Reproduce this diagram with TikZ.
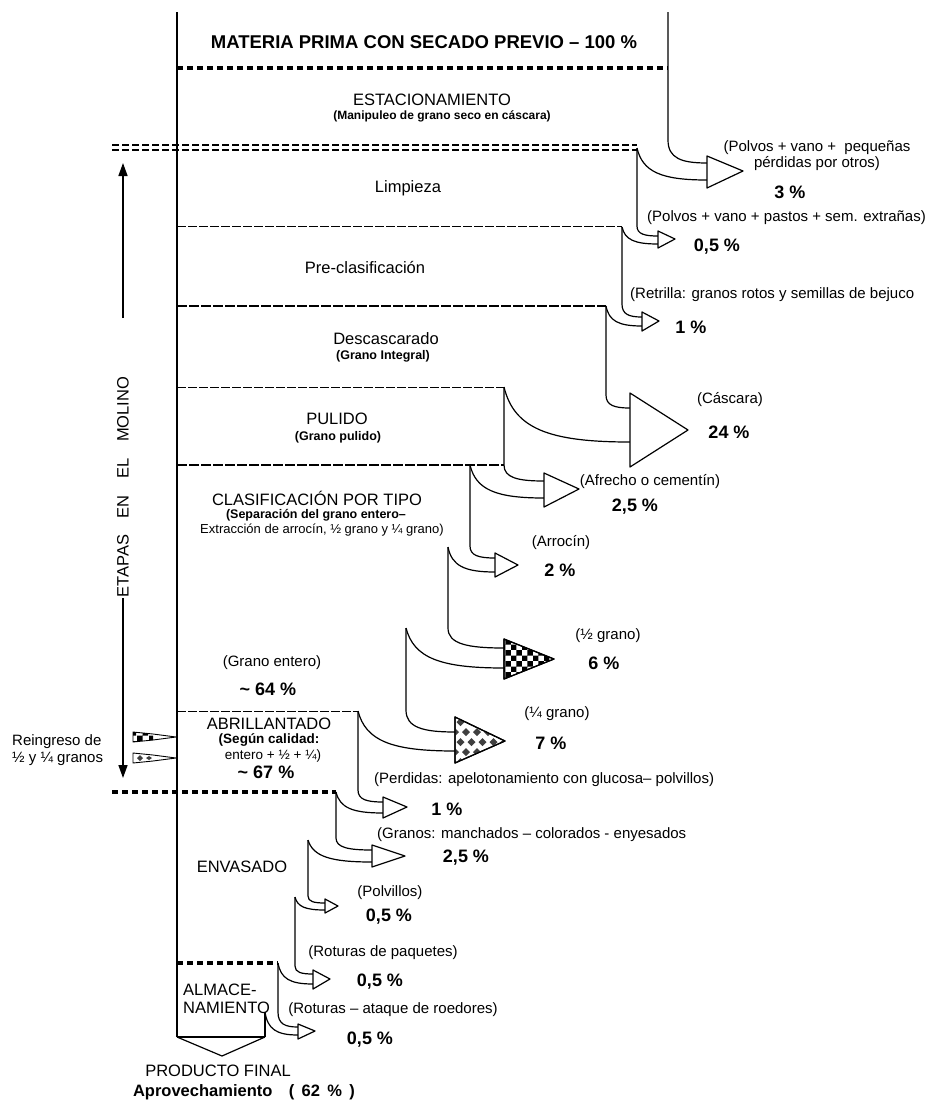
\documentclass[tikz,border=0pt]{standalone}
\usepackage{fontspec}
\setmainfont{Liberation Sans}
\usetikzlibrary{patterns,arrows.meta}
\newcommand{\upline}[5]{\draw[flow] (#1,#2) -- (#1,#3) .. controls (#1,{#3+0.8*(#5-#3)}) and ({#1+0.35*(#4-#1)},#5) .. (#4,#5);}
\newcommand{\lowline}[4]{\draw[flow] (#1,#2) .. controls ({#1+0.08*(#3-#1)},{#2+0.75*(#4-#2)}) and ({#1+0.35*(#3-#1)},#4) .. (#3,#4);}
\newcommand{\headtri}[6]{\draw[flow,#6] (#1,#2) -- (#4,#5) -- (#1,#3) -- cycle;}
\begin{document}
\begin{tikzpicture}[x=1pt,y=-1pt,line join=round,
  flow/.style={line width=1.2pt},
  lbl/.style={font=\fontsize{15}{17}\selectfont,inner sep=0pt},
  pct/.style={font=\fontsize{18}{20}\selectfont\bfseries,inner sep=0pt},
  stage/.style={font=\fontsize{16.5}{18}\selectfont,inner sep=0pt},
  sub/.style={font=\fontsize{12}{13}\selectfont\bfseries,inner sep=0pt},
  thickdash/.style={line width=3.5pt,dash pattern=on 6pt off 4pt},
  middash/.style={line width=2pt,dash pattern=on 10pt off 2pt},
  thindash/.style={line width=1pt,dash pattern=on 9pt off 2pt},
  dblline/.style={line width=1.2pt,dash pattern=on 7pt off 3pt}]
\useasboundingbox (0,0) rectangle (930,1104);
\fill[white] (0,0) rectangle (930,1104);
% main left boundary and bottom arrow
\draw[flow] (177,12) -- (177,1037);
\draw[flow] (177,1037) -- (265,1037);
\draw[flow] (177,1037) -- (222,1056) -- (265,1037);
\draw[flow] (265,1012) -- (265,1037);
% stage separators
\draw[thickdash] (177,68) -- (668,68);
\draw[dblline] (112,145) -- (637,145);
\draw[dblline] (112,150) -- (637,150);
\draw[thindash] (177,226) -- (622,226);
\draw[middash] (177,306) -- (606,306);
\draw[thindash] (177,387) -- (504,387);
\draw[middash] (177,465) -- (504,465);
\draw[thindash] (177,711) -- (358,711);
\draw[thickdash] (112,792) -- (336,792);
\draw[thickdash] (177,963) -- (278,963);
% loss flows
\upline{668}{12}{140}{707}{163} \lowline{637}{148}{707}{180}
\headtri{707}{156}{188}{743}{171}{fill=white}
\upline{637}{148}{226}{658}{236} \lowline{622}{227}{658}{244}
\headtri{658}{231}{248}{675}{239}{fill=white}
\upline{622}{227}{304}{642}{317} \lowline{606}{306}{642}{326}
\headtri{642}{312}{331}{659}{321}{fill=white}
\upline{606}{306}{395}{630}{408} \lowline{504}{387}{630}{442}
\headtri{630}{393}{467}{688}{430}{fill=white}
\upline{504}{387}{465}{544}{481} \lowline{470}{465}{544}{498}
\headtri{544}{473}{507}{579}{489}{fill=white}
\upline{470}{465}{546}{495}{558} \lowline{448}{547}{495}{572}
\headtri{495}{553}{577}{518}{565}{fill=white}
\upline{448}{547}{628}{504}{648} \lowline{406}{628}{504}{668}
\headtri{504}{639}{679}{554}{659}{fill=white}
\fill[pattern=checkerboard] (504,639) -- (554,659) -- (504,679) -- cycle;
\headtri{504}{639}{679}{554}{659}{}
\upline{406}{628}{710}{455}{732} \lowline{358}{711}{455}{751}
\headtri{455}{717}{763}{505}{741}{fill=white}
\begin{scope}
\clip (455,717) -- (505,741) -- (455,763) -- cycle;
\foreach \r in {0,...,5}{\foreach \c in {0,...,5}{
  \pgfmathsetmacro{\dx}{455+\c*11+mod(\r,2)*5.5}
  \pgfmathsetmacro{\dy}{712+\r*10}
  \fill[black!75] (\dx,\dy-4) -- (\dx+4,\dy) -- (\dx,\dy+4) -- (\dx-4,\dy) -- cycle;}}
\end{scope}
\headtri{455}{717}{763}{505}{741}{}
\upline{358}{711}{790}{383}{802} \lowline{336}{792}{383}{813}
\headtri{383}{797}{818}{407}{807}{fill=white}
\upline{336}{792}{838}{372}{850} \lowline{308}{840}{372}{862}
\headtri{372}{845}{867}{405}{856}{fill=white}
\upline{308}{840}{896}{325}{903} \lowline{295}{897}{325}{910}
\headtri{325}{899}{913}{338}{906}{fill=white}
\upline{295}{897}{966}{313}{974} \lowline{278}{963}{313}{984}
\headtri{313}{970}{989}{330}{979}{fill=white}
\upline{278}{963}{1012}{298}{1027} \lowline{265}{1012}{298}{1035}
\headtri{298}{1024}{1039}{315}{1031}{fill=white}
% left indicator
\draw[line width=1.6pt,-{Triangle[length=13pt,width=9pt]}] (123,318) -- (123,163);
\draw[line width=1.6pt,-{Triangle[length=13pt,width=9pt]}] (123,598) -- (123,778);
\node[stage,rotate=90] (etapas) at (123,487) {ETAPAS\quad EN\quad EL\quad MOLINO};
% re-entry pennants
\fill[pattern=checkerboard] (133,732) -- (153,734) -- (153,740) -- (133,742) -- cycle;
\draw[line width=0.9pt] (133,732) -- (153,734) -- (176,737) -- (153,740) -- (133,742) -- cycle;
\draw[line width=0.9pt,fill=white] (133,753) -- (153,755) -- (176,758) -- (153,761) -- (133,763) -- cycle;
\fill[black!75] (140,755) -- (143,758) -- (140,761) -- (137,758) -- cycle;
\fill[black!75] (149,756) -- (152,758) -- (149,760) -- (146,758) -- cycle;
% texts
\node[font=\fontsize{18.5}{20}\selectfont\bfseries,inner sep=0pt] (title) at (424,42) {MATERIA PRIMA CON SECADO PREVIO – 100 \%};
\node[stage] (est) at (432,100) {ESTACIONAMIENTO};
\node[sub] (ests) at (442,116) {(Manipuleo de grano seco en cáscara)};
\node[stage] (limp) at (408,188) {Limpieza};
\node[stage] (pre) at (365,267) {Pre-clasificación};
\node[stage] (desc) at (386,339) {Descascarado};
\node[sub,font=\fontsize{12.5}{14}\selectfont\bfseries] (descs) at (383,356) {(Grano Integral)};
\node[stage] (pul) at (337,419) {PULIDO};
\node[sub,font=\fontsize{12.5}{14}\selectfont\bfseries] (puls) at (338,437) {(Grano pulido)};
\node[stage] (clas) at (317,498) {CLASIFICACIÓN POR TIPO};
\node[sub,font=\fontsize{12.5}{14}\selectfont\bfseries] (clas1) at (316,515) {(Separación del grano entero–};
\node[lbl,font=\fontsize{13}{14}\selectfont] (clas2) at (322,530) {Extracción de arrocín, ½ grano y ¼ grano)};
\node[lbl] (ge) at (272,663) {(Grano entero)};
\node[pct] (ge2) at (268,689) {\textasciitilde\ 64 \%};
\node[stage] (abr) at (269,724) {ABRILLANTADO};
\node[sub,font=\fontsize{13.5}{15}\selectfont\bfseries] (abr1) at (269,740) {(Según calidad:};
\node[lbl,font=\fontsize{13.5}{15}\selectfont] (abr2) at (273,756) {entero + ½ + ¼)};
\node[pct] (abr3) at (266,772) {\textasciitilde\ 67 \%};
\node[lbl,anchor=west] (rein1) at (12,742) {Reingreso de};
\node[lbl,anchor=west] (rein2) at (12,759) {½ y ¼ granos};
\node[stage] (env) at (242,867) {ENVASADO};
\node[stage,anchor=west] (alm1) at (183,990) {ALMACE-};
\node[stage,anchor=west] (alm2) at (183,1008) {NAMIENTO};
\node[stage] (prod) at (218,1071) {PRODUCTO FINAL};
\node[font=\fontsize{16.5}{18}\selectfont\bfseries,inner sep=0pt] (aprov) at (244,1092) {Aprovechamiento\quad(\, 62\, \%\, )};
% loss labels
\node[lbl] (l1a) at (817,148) {(Polvos + vano + \ pequeñas};
\node[lbl] (l1b) at (817,164) {pérdidas por otros)};
\node[pct] (p1) at (790,192) {3 \%};
\node[lbl,anchor=west] (l2) at (647,218) {(Polvos + vano + pastos + sem. extrañas)};
\node[pct] (p2) at (717,247) {0,5 \%};
\node[lbl,anchor=west] (l3) at (630,295) {(Retrilla: granos rotos y semillas de bejuco};
\node[pct] (p3) at (691,327) {1 \%};
\node[lbl] (l4) at (730,400) {(Cáscara)};
\node[pct] (p4) at (729,432) {24 \%};
\node[lbl] (l5) at (650,482) {(Afrecho o cementín)};
\node[pct] (p5) at (635,507) {2,5 \%};
\node[lbl] (l6) at (561,543) {(Arrocín)};
\node[pct] (p6) at (560,570) {2 \%};
\node[lbl] (l7) at (608,636) {(½ grano)};
\node[pct] (p7) at (604,663) {6 \%};
\node[lbl] (l8) at (557,714) {(¼ grano)};
\node[pct] (p8) at (551,743) {7 \%};
\node[lbl,anchor=west] (l9) at (374,780) {(Perdidas: apelotonamiento con glucosa– polvillos)};
\node[pct] (p9) at (447,809) {1 \%};
\node[lbl,anchor=west] (l10) at (377,835) {(Granos: manchados – colorados - enyesados};
\node[pct] (p10) at (466,858) {2,5 \%};
\node[lbl] (l11) at (390,893) {(Polvillos)};
\node[pct] (p11) at (389,917) {0,5 \%};
\node[lbl] (l12) at (383,953) {(Roturas de paquetes)};
\node[pct] (p12) at (380,982) {0,5 \%};
\node[lbl] (l13) at (393,1010) {(Roturas – ataque de roedores)};
\node[pct] (p13) at (370,1040) {0,5 \%};
\end{tikzpicture}
\end{document}
